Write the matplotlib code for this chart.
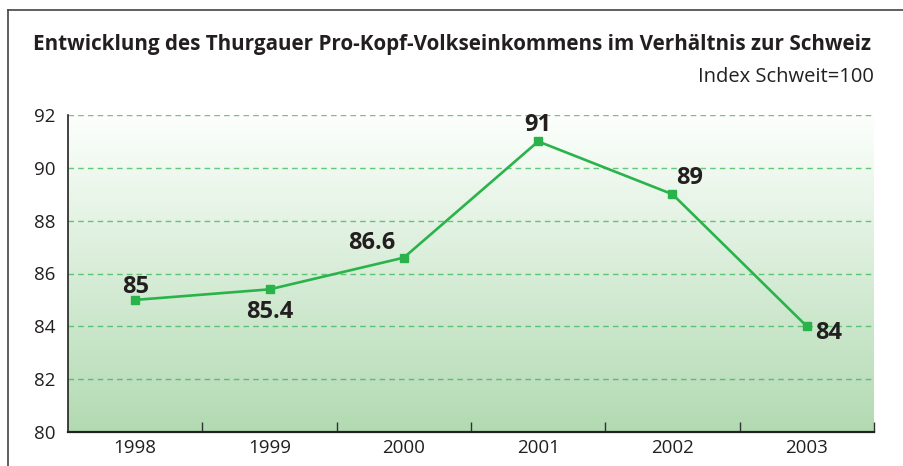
import numpy as np
from matplotlib import pyplot as plt
from matplotlib.lines import Line2D

years = ['1998', '1999', '2000', '2001', '2002', '2003']
index_values = [85, 85.4, 86.6, 91, 89, 84]
value_labels = ['85', '85.4', '86.6', '91', '89', '84']
# label offsets in pixels (dx, dy)
label_offsets = [(0, 13), (0, -23), (-32, 15), (0, 16), (17, 16.5), (22, -7)]
y_ticks = [80, 82, 84, 86, 88, 90, 92]

plt.rcParams['font.family'] = ['Open Sans', 'DejaVu Sans']

fig = plt.figure(figsize=(9.04, 4.66), dpi=100)
W, H = 904, 466
ax = fig.add_axes([68 / W, 1 - 432 / H, (874 - 68) / W, (432 - 115) / H])

x = np.arange(len(years))
ax.set_xlim(-0.5, len(years) - 0.5)
ax.set_ylim(80, 92)

# background gradient
grad = np.linspace(0, 1, 256).reshape(-1, 1)
top = np.array([0.99, 1.0, 0.99])
bottom = np.array([0.70, 0.855, 0.70])
img = top + (bottom - top) * grad[:, :, None] * np.ones((1, 2, 1))
ax.imshow(img, extent=(-0.5, len(years) - 0.5, 80, 92), aspect='auto', zorder=0)

for yv in y_ticks[1:]:
    ax.axhline(yv, color='#2ab34b', alpha=0.7, linestyle=(0, (4, 3)), linewidth=1, zorder=1)

ax.plot(x, index_values, color='#2ab34b', linewidth=1.9, marker='s', markersize=5.5, zorder=3)

for xi, yi, lab, (dx, dy) in zip(x, index_values, value_labels, label_offsets):
    ax.annotate(lab, (xi, yi), xytext=(dx, dy), textcoords='offset pixels',
                ha='center', va='center', fontsize=17, fontweight='bold', color='#231f20')

ax.set_xticks(x)
ax.set_xticklabels(years)
ax.set_xticks(np.arange(0.5, len(years)), minor=True)
ax.tick_params(axis='x', which='major', length=0, labelsize=13.5, pad=5, colors='#231f20')
ax.tick_params(axis='x', which='minor', length=7, direction='in', width=1, color='#333333')
ax.set_yticks(y_ticks)
ax.tick_params(axis='y', length=0, labelsize=13.5, pad=9, colors='#231f20')

for s in ['top', 'right']:
    ax.spines[s].set_visible(False)
ax.spines['left'].set_color('#222222')
ax.spines['left'].set_linewidth(1.2)
ax.spines['bottom'].set_color('#222222')
ax.spines['bottom'].set_linewidth(1.6)

# outer frame lines
fig.add_artist(Line2D([8 / W, 1], [1 - 10 / H, 1 - 10 / H], color='#444444', linewidth=1.2))
fig.add_artist(Line2D([8 / W, 8 / W], [0, 1 - 10 / H], color='#444444', linewidth=1.2))

fig.text(33 / W, 1 - 50 / H, 'Entwicklung des Thurgauer Pro-Kopf-Volkseinkommens im Verhältnis zur Schweiz',
         fontsize=14.9, fontweight='bold', color='#231f20', ha='left', va='baseline')
fig.text(874 / W, 1 - 82 / H, 'Index Schweit=100', fontsize=14.5, color='#231f20', ha='right', va='baseline')

fig.savefig('out.png', dpi=100)
